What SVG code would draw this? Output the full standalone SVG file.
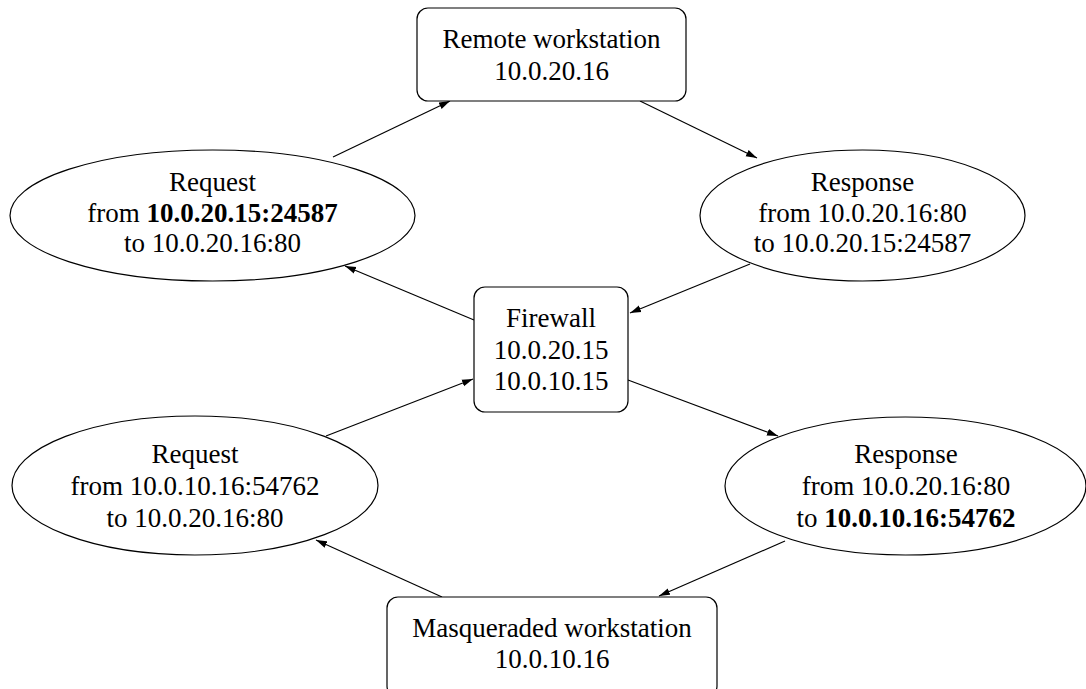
<svg xmlns="http://www.w3.org/2000/svg" width="1086" height="689" viewBox="0 0 1086 689">
<style>
.n{fill:#fff;stroke:#000;stroke-width:1.2}
text{font-family:"Liberation Serif","Times New Roman",serif;font-size:27px;fill:#000;text-anchor:middle}
.b{font-weight:bold}
.e{stroke:#000;stroke-width:1.2;fill:none;marker-end:url(#ah)}
</style>
<defs>
<marker id="ah" markerUnits="userSpaceOnUse" markerWidth="12" markerHeight="8" refX="11" refY="4" orient="auto">
<path d="M0,0.5 L11,4 L0,7.5 Z" fill="#000"/>
</marker>
</defs>
<rect width="1086" height="689" fill="#fff"/>
<g id="connectors">
<line class="e" x1="333" y1="157" x2="450" y2="101"/>
<line class="e" x1="640" y1="101" x2="757" y2="158"/>
<line class="e" x1="750" y1="264" x2="630" y2="313"/>
<line class="e" x1="474" y1="320" x2="345" y2="266"/>
<line class="e" x1="326" y1="436" x2="473" y2="379"/>
<line class="e" x1="628" y1="380" x2="778" y2="436"/>
<line class="e" x1="785" y1="541" x2="659" y2="596"/>
<line class="e" x1="442" y1="597" x2="316" y2="540"/>
</g>
<g id="remote">
<rect class="n" x="417" y="8" width="269" height="93" rx="11"/>
<text x="551.5" y="48">Remote workstation</text>
<text x="551.5" y="80">10.0.20.16</text>
</g>
<g id="req1">
<ellipse class="n" cx="212.5" cy="215.5" rx="202.5" ry="65.5"/>
<text x="212.5" y="191">Request</text>
<text x="212.5" y="222">from <tspan class="b">10.0.20.15:24587</tspan></text>
<text x="212.5" y="252">to 10.0.20.16:80</text>
</g>
<g id="resp1">
<ellipse class="n" cx="862.5" cy="215.5" rx="162.5" ry="65.5"/>
<text x="862.5" y="191">Response</text>
<text x="862.5" y="222">from 10.0.20.16:80</text>
<text x="862.5" y="252">to 10.0.20.15:24587</text>
</g>
<g id="firewall">
<rect class="n" x="474" y="287" width="154" height="125" rx="11"/>
<text x="551" y="327">Firewall</text>
<text x="551" y="359">10.0.20.15</text>
<text x="551" y="390">10.0.10.15</text>
</g>
<g id="req2">
<ellipse class="n" cx="195" cy="485.5" rx="183" ry="69.5"/>
<text x="195" y="463">Request</text>
<text x="195" y="495">from 10.0.10.16:54762</text>
<text x="195" y="527">to 10.0.20.16:80</text>
</g>
<g id="resp2">
<ellipse class="n" cx="905.5" cy="486" rx="180.5" ry="69"/>
<text x="906" y="463">Response</text>
<text x="906" y="495">from 10.0.20.16:80</text>
<text x="906" y="527">to <tspan class="b">10.0.10.16:54762</tspan></text>
</g>
<g id="masq">
<rect class="n" x="387" y="597" width="330" height="100" rx="11"/>
<text x="552" y="637">Masqueraded workstation</text>
<text x="552" y="668">10.0.10.16</text>
</g>
</svg>
